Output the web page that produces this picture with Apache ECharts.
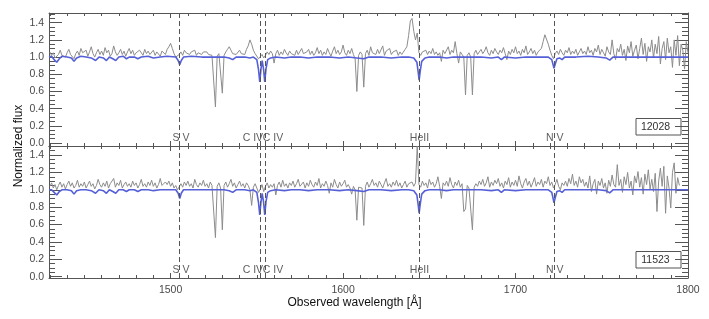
<!DOCTYPE html>
<html><head><meta charset="utf-8">
<script src="https://cdn.jsdelivr.net/npm/echarts@6/dist/echarts.min.js"></script>
<style>html,body{margin:0;padding:0;background:#fff}#c{width:709px;height:319px}</style>
</head><body><div id="c"></div>
<script>
// ---- data ----
const waveStart = 1430; // Å, one sample per Å
const fluxUpper = [
1.06,1.02,1.05,0.99,0.97,1.03,1.08,1.02,1.04,1.00,
1.05,1.09,1.03,1.01,0.98,1.04,1.07,1.02,1.10,1.05,
1.03,1.08,1.01,1.06,1.12,1.04,1.00,1.05,1.09,1.03,
1.07,1.02,1.11,1.05,1.08,1.01,1.04,1.13,1.06,1.02,
1.05,1.09,1.03,1.07,1.01,1.06,1.10,1.04,1.08,1.02,
1.05,1.03,1.08,1.06,1.02,1.09,1.04,1.07,1.03,1.05,
1.08,1.02,1.06,1.04,1.01,1.07,1.05,1.03,1.09,1.12,
1.16,1.10,1.04,1.00,0.98,1.03,1.06,1.02,1.08,1.05,
1.07,1.03,1.06,1.04,1.08,1.02,1.05,1.07,1.03,1.06,
1.04,1.06,1.03,1.05,1.02,1.00,0.42,1.01,1.04,1.03,
0.58,1.02,1.06,1.09,1.12,1.08,1.04,1.06,1.03,1.05,
1.08,1.04,1.06,1.03,1.09,1.13,1.20,1.15,1.08,1.04,
1.02,0.98,1.00,1.03,0.99,1.02,1.06,1.03,1.07,1.04,
0.93,1.04,1.08,1.02,1.06,1.03,1.09,1.05,1.02,1.07,
1.04,1.06,1.02,1.08,1.03,1.05,1.10,1.04,1.02,1.06,
1.09,1.03,1.07,1.02,1.05,1.11,1.04,1.08,1.02,1.06,
1.03,1.10,1.05,1.01,1.07,1.12,1.04,1.08,1.03,1.06,
1.14,1.05,1.02,1.08,1.04,1.10,1.03,0.98,0.60,1.02,
1.06,1.03,0.65,1.04,1.08,1.02,1.12,1.05,1.07,1.03,
1.09,1.04,1.06,1.13,1.02,1.07,1.05,1.10,1.03,1.06,
1.04,1.08,1.02,1.06,1.03,1.05,1.09,1.12,1.25,1.42,
1.45,1.30,1.20,1.28,1.05,1.02,1.06,1.04,1.08,1.03,
1.07,1.04,1.10,1.03,1.06,1.02,1.05,0.95,1.08,1.04,
1.06,1.12,1.03,1.08,1.05,1.18,1.04,0.93,1.06,1.03,
1.00,0.56,1.02,1.05,1.00,0.56,1.04,1.08,1.03,1.06,
1.09,1.04,1.07,1.12,1.05,1.02,1.08,1.04,1.10,1.06,
1.03,1.08,1.05,1.11,1.04,0.97,1.07,1.03,1.09,1.05,
1.12,1.04,1.07,1.02,1.09,1.05,1.13,1.03,1.06,1.10,
1.04,1.08,1.02,1.06,1.05,1.10,1.18,1.26,1.28,1.15,
1.08,1.02,0.98,1.04,1.07,1.03,1.09,1.05,1.02,1.08,
1.05,1.11,1.03,1.07,1.04,1.09,1.02,1.06,1.10,1.04,
1.07,1.03,1.12,1.05,1.08,1.02,1.10,1.06,1.14,1.03,
1.09,1.05,1.01,1.12,1.06,1.03,1.20,1.04,0.97,1.10,
1.06,1.15,1.02,1.09,0.96,1.13,1.05,1.18,1.01,1.08,
1.14,0.98,1.10,1.22,1.03,1.16,0.95,1.12,1.06,1.20,
0.99,1.15,1.04,1.24,0.92,1.10,1.18,0.97,1.22,1.05,
1.12,0.88,1.20,1.02,1.25,0.90,1.15,1.08,0.86,1.18,
1.05];
const fluxLower = [
1.04,1.08,1.02,1.06,1.00,1.05,1.09,1.03,1.07,1.01,
1.06,1.10,1.04,1.08,1.02,1.05,1.11,1.03,1.07,1.04,
1.09,1.02,1.06,1.10,1.04,1.07,1.01,1.05,1.12,1.06,
1.03,1.08,1.04,1.10,1.02,1.07,1.05,1.13,1.03,1.08,
1.05,1.11,1.02,1.06,1.09,1.04,1.07,1.03,1.10,1.05,
1.08,1.02,1.06,1.12,1.04,1.07,1.03,1.09,1.05,1.11,
1.04,1.08,1.02,1.06,1.13,1.05,1.03,1.09,1.06,1.10,
1.04,1.08,1.02,1.05,1.00,0.98,1.07,1.03,1.09,1.05,
1.10,1.04,1.07,1.02,1.12,1.06,1.03,1.08,1.05,1.11,
1.04,1.07,1.02,1.09,1.05,1.03,0.45,1.04,1.08,1.02,
0.54,1.05,1.09,1.03,1.07,1.12,1.04,1.08,1.02,1.06,
1.10,1.04,1.07,1.02,1.08,1.05,1.00,0.82,1.03,1.07,
1.02,0.97,1.01,1.06,0.98,1.04,1.08,1.02,1.06,1.03,
1.07,0.94,1.05,1.09,1.03,1.11,1.04,1.07,1.02,1.08,
1.05,1.10,1.03,1.07,1.12,1.04,1.06,1.09,1.02,1.08,
1.04,1.11,1.06,1.03,1.09,1.05,1.13,1.02,1.07,1.04,
1.10,1.05,0.96,1.08,1.03,1.12,1.06,1.02,1.09,1.04,
1.07,1.11,1.03,1.06,1.02,0.95,1.04,1.00,0.65,1.03,
1.05,1.02,0.59,1.04,1.09,1.03,1.07,1.12,1.05,1.08,
1.03,1.10,1.06,1.02,1.08,1.13,1.04,1.07,1.03,1.09,
1.05,1.11,1.04,1.08,1.02,1.06,1.10,1.03,1.07,1.05,
1.09,1.04,1.08,1.50,1.06,1.03,1.10,1.05,1.08,1.02,
1.12,1.06,1.09,1.03,1.07,1.15,1.04,0.90,1.08,1.05,
1.10,1.04,1.14,1.06,1.02,1.09,1.05,1.11,1.03,1.07,
0.75,0.78,1.05,1.02,1.00,0.54,1.03,1.07,1.04,1.10,
1.06,1.12,1.04,1.08,1.15,1.03,1.09,1.05,1.11,1.07,
1.13,1.04,1.08,1.02,1.10,1.06,1.14,1.03,1.09,1.05,
1.11,1.04,1.16,1.07,1.02,1.09,1.13,1.05,1.10,1.03,
1.08,1.14,1.04,1.09,1.06,1.12,1.03,1.10,1.07,1.15,
1.05,1.09,1.02,1.06,1.12,1.04,1.00,1.08,1.05,1.10,
1.04,1.13,1.07,1.18,1.05,1.10,1.03,1.15,1.08,1.12,
1.04,1.09,1.02,1.16,0.98,1.07,1.12,0.95,1.10,1.05,
1.13,1.02,1.08,0.96,1.11,1.04,1.17,1.06,1.03,1.29,
1.05,1.12,0.97,1.15,1.06,1.20,1.02,1.10,0.94,1.16,
1.08,1.21,1.03,1.14,0.95,1.18,1.06,1.23,1.01,1.12,
0.98,1.19,0.75,1.10,1.25,1.04,1.27,0.73,1.16,1.02,
0.79,1.20,1.31,0.96,1.14,1.05];
const modelUpper = [
[1429.5,1.00],[1431,1.01],[1432.5,0.97],[1434,0.94],[1435.5,0.98],[1437,1.01],[1440,1.00],[1442.5,0.99],[1444,0.95],[1445.5,0.99],
[1448,1.01],[1451,1.00],[1454,0.99],[1456.5,0.96],[1458.5,1.00],[1461,0.99],[1462.8,0.96],[1464.5,1.00],[1466.5,0.98],[1468.2,0.96],
[1470,1.00],[1472.5,1.01],[1474.4,0.98],[1476,1.00],[1479,1.00],[1481,0.98],[1483,1.00],[1487,1.01],[1490,0.99],[1494,1.00],
[1498,1.01],[1503,1.00],[1504.4,0.96],[1505.3,0.91],[1506.2,0.96],[1507.5,1.00],[1512,1.01],[1518,1.00],[1525,1.00],[1531,1.00],
[1534,0.99],[1536,0.97],[1538,1.00],[1543,1.00],[1546,0.99],[1548,1.00],[1550,0.97],[1551,0.85],[1551.7,0.71],[1552.4,0.86],
[1553.1,0.96],[1553.9,0.86],[1554.6,0.71],[1555.3,0.86],[1556.3,0.97],[1558,0.99],[1561,1.00],[1566,0.99],[1570,1.00],[1575,1.00],
[1580,0.99],[1585,1.00],[1592,1.00],[1598,0.99],[1603,1.00],[1608,0.99],[1612,0.98],[1615,1.00],[1622,1.00],[1628,0.99],
[1634,1.00],[1638,1.00],[1641,0.99],[1642.8,0.94],[1643.6,0.82],[1644.1,0.73],[1644.7,0.83],[1645.6,0.95],[1647.5,0.99],[1650,1.00],
[1656,1.00],[1660,0.99],[1664,1.00],[1672,1.00],[1680,1.00],[1686,0.99],[1690,1.00],[1691.8,0.97],[1693.5,1.00],[1700,0.99],
[1706,1.00],[1712,1.00],[1719,1.00],[1721,0.97],[1721.8,0.91],[1722.3,0.87],[1722.9,0.91],[1724,0.98],[1725.5,0.99],[1727,0.97],
[1728.5,1.00],[1735,1.00],[1742,1.01],[1748,1.00],[1752.5,0.99],[1754.6,0.965],[1756.5,1.00],[1762,1.00],[1770,1.00],[1780,1.00],
[1790,1.00],[1800,1.00]];
const modelLower = [
[1429.5,1.00],[1431,1.00],[1432.5,0.97],[1434,0.94],[1435.5,0.98],[1437,1.00],[1440,1.00],[1442.5,0.99],[1444,0.95],[1445.5,0.99],
[1448,1.00],[1451,1.00],[1454,0.99],[1456.5,0.96],[1458.5,1.00],[1461,0.99],[1462.8,0.96],[1464.5,1.00],[1466.5,0.98],[1468.2,0.96],
[1470,1.00],[1472.5,1.00],[1474.4,0.98],[1476,1.00],[1479,1.00],[1481,0.98],[1483,1.00],[1487,1.00],[1490,0.99],[1494,1.00],
[1498,1.00],[1503,1.00],[1504.4,0.96],[1505.3,0.90],[1506.2,0.96],[1507.5,1.00],[1512,1.00],[1518,1.00],[1525,1.00],[1531,1.00],
[1534,0.99],[1536,0.97],[1538,1.00],[1543,1.00],[1546,0.99],[1548,1.00],[1550,0.97],[1551,0.85],[1551.7,0.71],[1552.4,0.86],
[1553.1,0.96],[1553.9,0.86],[1554.6,0.71],[1555.3,0.86],[1556.3,0.97],[1558,0.99],[1561,1.00],[1566,0.99],[1570,1.00],[1575,1.00],
[1580,0.99],[1585,1.00],[1592,1.00],[1598,0.99],[1603,1.00],[1608,0.99],[1612,0.98],[1615,1.00],[1622,1.00],[1628,0.99],
[1634,1.00],[1638,1.00],[1641,0.99],[1642.8,0.94],[1643.6,0.82],[1644.1,0.73],[1644.7,0.83],[1645.6,0.95],[1647.5,0.99],[1650,1.00],
[1656,1.00],[1660,0.99],[1664,1.00],[1672,1.00],[1680,1.00],[1686,0.99],[1690,1.00],[1691.8,0.97],[1693.5,1.00],[1700,0.99],
[1706,1.00],[1712,1.00],[1719,1.00],[1721,0.97],[1721.8,0.90],[1722.3,0.85],[1722.9,0.90],[1724,0.98],[1725.5,0.99],[1727,0.97],
[1728.5,1.00],[1735,1.00],[1742,1.00],[1748,1.00],[1752.5,0.99],[1754.6,0.965],[1756.5,1.00],[1762,1.00],[1770,1.00],[1780,1.00],
[1790,1.00],[1800,1.00]];
const lineWaves = [1505.3, 1551.7, 1554.6, 1644.1, 1722.3];
const lineLabels = ['S V', 'C IV', 'C IV', 'HeII', 'N V'];
const lineLabelWaves = [1506, 1547.7, 1559.4, 1644.3, 1722.8];
const panelIds = ['12028', '11523'];
const xMajorTicks = [1500, 1600, 1700, 1800];
const yMajorTicks = [0.0, 0.2, 0.4, 0.6, 0.8, 1.0, 1.2, 1.4];

// ---- layout / style ----
const xMin = 1429.5, xMax = 1800;
const yRanges = [[-0.035, 1.513], [-0.015, 1.504]];
const labelY = [0.06, 0.08];
const grids = [{left: 49, top: 13, width: 639, height: 133}, {left: 49, top: 146, width: 639, height: 132}];
const axisColor = '#555';
const labelColor = '#4a4a4a';
const FONT = '"Liberation Sans", Arial, Helvetica, sans-serif';
const xMinorTicks = []; for (let w = 1430; w <= 1800; w += 10) xMinorTicks.push(w);
const yMinorTicks = []; for (let k = 0; k <= 30; k++) yMinorTicks.push(+(k * 0.05).toFixed(2));

const xAxes = [], yAxes = [];
grids.forEach((g, gi) => {
  const xb = {type: 'value', gridIndex: gi, min: xMin, max: xMax, splitLine: {show: false},
    axisLine: {show: true, onZero: false, lineStyle: {color: axisColor, width: 1}}};
  const mk = (pos, major, labels) => Object.assign({}, xb, {
    position: pos,
    axisLine: major ? xb.axisLine : {show: false, onZero: false},
    axisTick: {show: true, inside: true, length: major ? 5 : 3, customValues: major ? xMajorTicks : xMinorTicks, lineStyle: {color: axisColor, width: 1}},
    axisLabel: {show: !!labels, customValues: xMajorTicks, margin: 7, fontSize: 10.5, color: labelColor, fontFamily: FONT, formatter: v => String(v)}
  });
  xAxes.push(mk('bottom', true, gi === 1), mk('bottom', false), mk('top', true), mk('top', false));
  const yb = {type: 'value', gridIndex: gi, min: yRanges[gi][0], max: yRanges[gi][1], splitLine: {show: false},
    axisLine: {show: true, onZero: false, lineStyle: {color: axisColor, width: 1}}};
  const mky = (pos, major, labels) => Object.assign({}, yb, {
    position: pos,
    axisLine: major ? yb.axisLine : {show: false, onZero: false},
    axisTick: {show: true, inside: true, length: major ? 13 : 6, customValues: major ? yMajorTicks : yMinorTicks, lineStyle: {color: axisColor, width: 1}},
    axisLabel: {show: !!labels, customValues: yMajorTicks, margin: 5, fontSize: 10.5, color: labelColor, fontFamily: FONT, formatter: v => v.toFixed(1)}
  });
  yAxes.push(mky('left', true, true), mky('left', false), mky('right', true), mky('right', false));
});

const fluxSets = [fluxUpper, fluxLower];
const modelSets = [modelUpper, modelLower];
const series = [];
grids.forEach((g, gi) => {
  series.push({
    type: 'line', xAxisIndex: gi * 4, yAxisIndex: gi * 4, symbol: 'none', silent: true, z: 2,
    data: fluxSets[gi].map((v, i) => [waveStart + i, v]),
    lineStyle: {color: '#8c8c8c', width: 1}
  });
  series.push({
    type: 'line', xAxisIndex: gi * 4, yAxisIndex: gi * 4, symbol: 'none', silent: true, z: 3,
    data: modelSets[gi],
    lineStyle: {color: '#5560d8', width: 1.6}
  });
  series.push({
    type: 'scatter', xAxisIndex: gi * 4, yAxisIndex: gi * 4, silent: true, z: 4,
    symbolSize: 1, itemStyle: {color: 'rgba(0,0,0,0)'},
    data: lineLabelWaves.map((w, i) => [w, labelY[gi], lineLabels[i]]),
    label: {show: true, position: 'inside', formatter: p => p.data[2], fontSize: 10.5, color: '#333', fontFamily: FONT},
    markLine: {silent: true, symbol: 'none', label: {show: false},
      lineStyle: {type: [5, 3], color: '#555', width: 1},
      data: lineWaves.map(w => ({xAxis: w}))}
  });
});

const graphic = [];
const boxes = [{x: 636, y: 118.5, ty: 127}, {x: 636, y: 251.5, ty: 260}];
boxes.forEach((b, i) => {
  graphic.push({type: 'rect', shape: {x: b.x, y: b.y, width: 45, height: 16.5}, style: {fill: 'none', stroke: '#555', lineWidth: 1}, z: 10});
  graphic.push({type: 'text', x: 655.5, y: b.ty, style: {text: panelIds[i], font: '10.5px ' + FONT, fill: '#333', textAlign: 'center', textVerticalAlign: 'middle'}, z: 10});
});
graphic.push({type: 'text', x: 19, y: 146, rotation: Math.PI / 2, style: {text: 'Normalized flux', font: '12px ' + FONT, fill: '#111', textAlign: 'center', textVerticalAlign: 'middle'}});
graphic.push({type: 'text', x: 354.5, y: 303, style: {text: 'Observed wavelength [Å]', font: '12px ' + FONT, fill: '#111', textAlign: 'center', textVerticalAlign: 'middle'}});

const chart = echarts.init(document.getElementById('c'), null, {renderer: 'canvas'});
chart.setOption({animation: false, backgroundColor: '#fff', grid: grids, xAxis: xAxes, yAxis: yAxes, series, graphic});
</script></body></html>
